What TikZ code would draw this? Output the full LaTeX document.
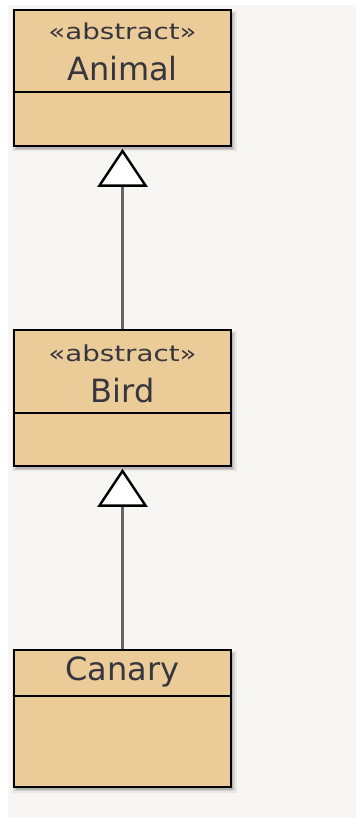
\documentclass[tikz,border=0pt]{standalone}
\usepackage{fontspec}
\newfontfamily\umlfont{DejaVu Sans}
\usetikzlibrary{arrows.meta,shadows}
\definecolor{bgcol}{HTML}{F7F6F3}
\definecolor{boxfill}{HTML}{EBCB98}
\definecolor{txtcol}{HTML}{36363F}
\definecolor{linkcol}{HTML}{666666}
\tikzset{
  classbox/.style={draw=black, line width=2.6pt, fill=boxfill, rectangle,
    minimum width=217pt, inner sep=0pt,
    general shadow={fill=black, opacity=0.14, shadow xshift=2pt, shadow yshift=-3pt},
    general shadow={fill=black, opacity=0.09, shadow xshift=2pt, shadow yshift=-3pt, shadow scale=1.02},
    general shadow={fill=black, opacity=0.06, shadow xshift=2pt, shadow yshift=-3pt, shadow scale=1.035}},
  divider/.style={draw=black, line width=2.4pt},
  stereo/.style={anchor=base, text=txtcol, inner sep=0pt, font=\umlfont\fontsize{22}{26}\selectfont},
  cname/.style={anchor=base, text=txtcol, inner sep=0pt, font=\umlfont\fontsize{32}{38}\selectfont},
  inherit/.style={draw=linkcol, line width=3.4pt,
    -{Triangle[length=38pt, width=50pt, color=black, fill=white, line width=2.4pt]}}
}
\begin{document}
\begin{tikzpicture}[x=1pt,y=1pt]
\useasboundingbox (0,0) rectangle (356,-818);
\fill[white] (0,0) rectangle (356,-818);
\fill[bgcol] (8,-5) rectangle (356,-818);
% Animal
\node[classbox, minimum height=136pt] (animal) at (122.5,-78) {};
\draw[divider] (animal.west |- 0,-92) -- (animal.east |- 0,-92);
\node[stereo] (animalst) at (122.5,-40) {\scalebox{1.26}[1]{«abstract»}};
\node[cname] (animalname) at (122.5,-81) {Animal};
% Bird
\node[classbox, minimum height=136pt] (bird) at (122.5,-398) {};
\draw[divider] (bird.west |- 0,-413) -- (bird.east |- 0,-413);
\node[stereo] (birdst) at (122.5,-361) {\scalebox{1.26}[1]{«abstract»}};
\node[cname] (birdname) at (122.5,-402) {Bird};
% Canary
\node[classbox, minimum height=137pt] (canary) at (122.5,-718.5) {};
\draw[divider] (canary.west |- 0,-696) -- (canary.east |- 0,-696);
\node[cname] (canaryname) at (122.5,-680) {Canary};
% generalizations
\draw[inherit, shorten >=1.5pt] (bird.north) -- (animal.south);
\draw[inherit, shorten >=1.5pt] (canary.north) -- (bird.south);
\end{tikzpicture}
\end{document}
